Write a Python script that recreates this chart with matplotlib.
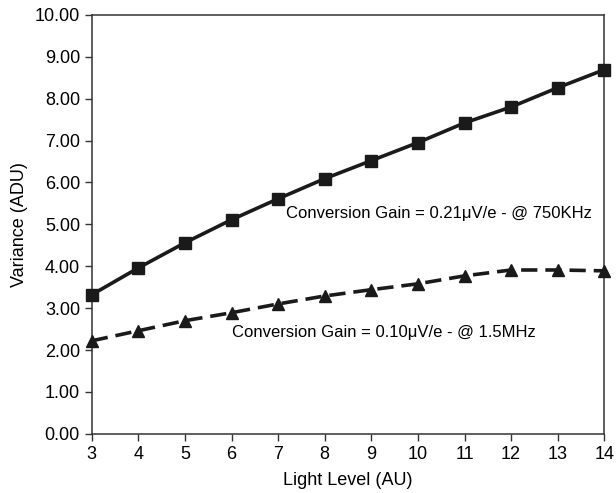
import matplotlib
matplotlib.use('Agg')
import matplotlib.pyplot as plt
import numpy as np

plt.rcParams['font.family'] = ['Liberation Sans', 'DejaVu Sans']

# data
light_level = [3, 4, 5, 6, 7, 8, 9, 10, 11, 12, 13, 14]
var_750k = [3.32, 3.96, 4.56, 5.11, 5.61, 6.09, 6.52, 6.95, 7.42, 7.80, 8.26, 8.69]
var_1m5 = [2.22, 2.46, 2.70, 2.89, 3.10, 3.29, 3.44, 3.58, 3.77, 3.91, 3.91, 3.89]

yticks = np.arange(0, 10.01, 1.0)

fig = plt.figure(figsize=(6.16, 4.93), dpi=100)
ax = fig.add_axes([0.149, 0.120, 0.832, 0.850])

ax.plot(light_level, var_750k, color='#1a1a1a', lw=2.6, marker='s', ms=9,
        solid_joinstyle='miter', clip_on=False, zorder=3)
ax.plot(light_level, var_1m5, color='#1a1a1a', lw=2.6, ls=(0, (4.5, 2.2)),
        marker='^', ms=9, clip_on=False, zorder=3)

ax.set_xlim(3, 14)
ax.set_ylim(0, 10)
ax.set_xticks(light_level)
ax.set_yticks(yticks)
ax.set_yticklabels(['%.2f' % v for v in yticks])
ax.tick_params(labelsize=13, direction='out', length=5, width=1, color='#333333')
ax.tick_params(axis='x', pad=4)

for s in ax.spines.values():
    s.set_linewidth(1.1)
    s.set_color('#333333')

ax.set_xlabel('Light Level (AU)', fontsize=13, labelpad=6)
ax.set_ylabel('Variance (ADU)', fontsize=13, labelpad=5)

ax.text(7.17, 5.27, 'Conversion Gain = 0.21\u03bcV/e - @ 750KHz', fontsize=12, va='center', ha='left')
ax.text(6.01, 2.41, 'Conversion Gain = 0.10\u03bcV/e - @ 1.5MHz', fontsize=12, va='center', ha='left')

fig.savefig('out.png', dpi=100)
